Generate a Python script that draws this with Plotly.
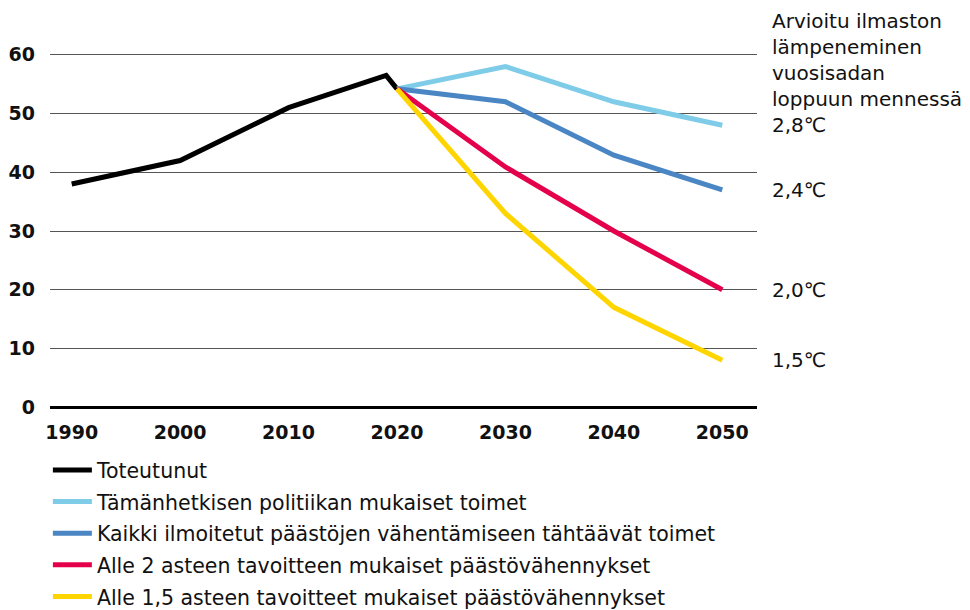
import plotly.graph_objects as go

# ---- data ----
hist_years = [1990, 2000, 2010, 2019, 2020]
hist_values = [38, 42, 51, 56.5, 54.2]

scen_years = [2020, 2030, 2040, 2050]
current_policy = [54.2, 58, 52, 48]
announced = [54.2, 52, 42.9, 37]
below_2 = [54.2, 40.9, 30, 20]
below_15 = [54.2, 33, 17, 8]

series_names = [
    "Toteutunut",
    "Tämänhetkisen politiikan mukaiset toimet",
    "Kaikki ilmoitetut päästöjen vähentämiseen tähtäävät toimet",
    "Alle 2 asteen tavoitteen mukaiset päästövähennykset",
    "Alle 1,5 asteen tavoitteet mukaiset päästövähennykset",
]
temp_labels = ["2,8℃", "2,4℃", "2,0℃", "1,5℃"]
header_text = "Arvioitu ilmaston<br>lämpeneminen<br>vuosisadan<br>loppuun mennessä"
x_ticks = [1990, 2000, 2010, 2020, 2030, 2040, 2050]
y_ticks = [0, 10, 20, 30, 40, 50, 60]

colors = ["#000000", "#7FCCE8", "#4A86C4", "#E4004B", "#FFD500"]
FONT = "DejaVu Sans"

fig = go.Figure()
fig.add_trace(go.Scatter(x=hist_years, y=hist_values, mode="lines",
                         name=series_names[0], legendgroup="a",
                         line=dict(color=colors[0], width=5)))
scen = [current_policy, announced, below_2, below_15]
for i, vals in enumerate(scen):
    fig.add_trace(go.Scatter(x=scen_years, y=vals, mode="lines",
                             name=series_names[i + 1], legendgroup=str(i),
                             line=dict(color=colors[i + 1], width=5)))
    fig.add_annotation(x=1.0187, xref="paper", y=vals[-1], yref="y",
                       text=temp_labels[i], showarrow=False, xanchor="left",
                       yanchor="middle",
                       font=dict(family=FONT, size=20, color="#111"))

fig.add_annotation(x=1.0187, xref="paper", y=1.128, yref="paper",
                   text=header_text, showarrow=False, xanchor="left",
                   yanchor="top", align="left",
                   font=dict(family=FONT, size=20, color="#111"))

fig.update_layout(
    width=962, height=602,
    margin=dict(l=42, r=213, t=45, b=201, autoexpand=False),
    paper_bgcolor="white", plot_bgcolor="white",
    showlegend=True,
    legend=dict(x=-0.003, xanchor="left", y=-0.1154, yanchor="top",
                orientation="v", tracegroupgap=2, itemwidth=39,
                font=dict(family=FONT, size=20.5, color="#111")),
    xaxis=dict(range=[1988, 2053.2], tickvals=x_ticks, showgrid=False,
               zeroline=False, showline=False, ticks="",
               ticklabelstandoff=10,
               tickfont=dict(family=FONT, size=19, color="#111", weight="bold")),
    yaxis=dict(range=[-0.3, 60.3], tickvals=y_ticks, showgrid=True,
               gridcolor="#555555", gridwidth=1,
               zeroline=True, zerolinecolor="#000000", zerolinewidth=3,
               showline=False, ticks="", ticklabelstandoff=14,
               tickfont=dict(family=FONT, size=19, color="#111", weight="bold")),
)

fig.write_html("out.html")
